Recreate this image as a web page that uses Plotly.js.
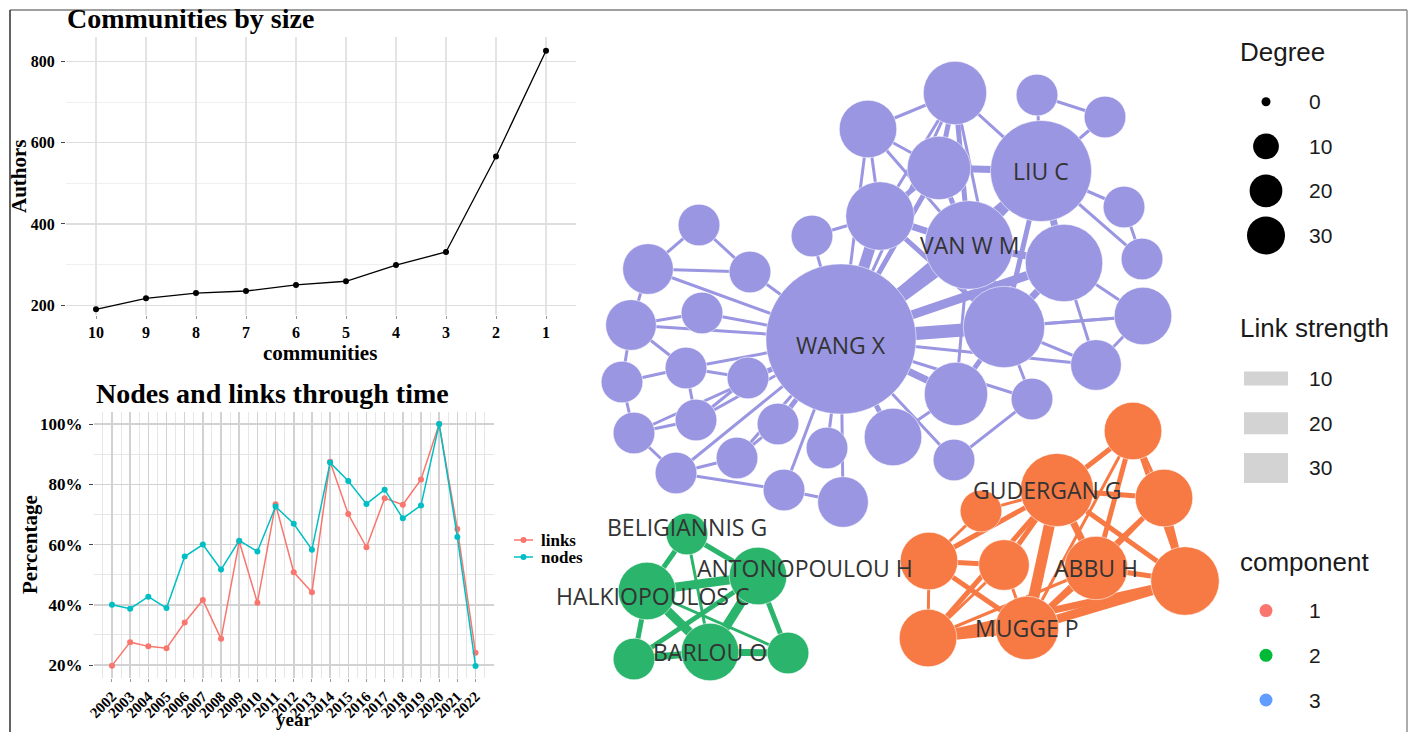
<!DOCTYPE html>
<html><head><meta charset="utf-8">
<script src="https://cdn.plot.ly/plotly-3.0.1.min.js"></script>
<style>html,body{margin:0;padding:0;background:#fff}#chart{width:1416px;height:732px}</style>
</head><body><div id="chart"></div>
<script>
// ---------------- DATA ----------------
// Communities by size
const communities = ['10','9','8','7','6','5','4','3','2','1'];
const authors = [190, 217, 230, 235, 250, 259, 299, 331, 566, 826];

// Nodes and links through time (percent of maximum)
const years = [2002,2003,2004,2005,2006,2007,2008,2009,2010,2011,2012,2013,2014,2015,2016,2017,2018,2019,2020,2021,2022];
const linksPct = [19.8,27.6,26.2,25.6,34.1,41.6,28.7,61.0,40.7,73.4,50.8,44.2,87.5,70.1,59.1,75.4,73.2,81.6,100,65.2,24.1];
const nodesPct = [40.0,38.7,42.7,38.9,56.0,60.0,51.7,61.3,57.7,72.6,66.9,58.3,87.2,81.1,73.5,78.2,68.7,73.0,100,62.5,19.7];
const pctTicks = [20, 40, 60, 80, 100];

// Co-authorship network (graph layout coordinates)
const nodeNames = ['WANG X','VAN W M','LIU C','','','','','','','','','','','','','','','','','','','','','','','','','','','','','','','','','',
  'BELIGIANNIS G','ANTONOPOULOU H','HALKIOPOULOS C','BARLOU O','','',
  'GUDERGAN G','','','','','','ABBU H','','MUGGE P',''];
const nodeX = [-0.59,0.69,1.41,0.55,1.37,2.05,-0.32,0.39,-0.20,-0.88,1.64,2.24,2.42,1.04,2.43,1.96,0.56,1.32,-0.07,0.54,-0.73,-1.22,-1.63,-1.16,-0.57,-2.24,-2.04,-2.66,-1.52,-2.14,-2.78,-2.69,-1.98,-2.52,-1.50,-2.01,
  -2.13,-1.42,-2.53,-1.90,-2.66,-1.12,
  1.57,2.33,2.64,0.81,0.29,1.04,1.96,2.85,1.27,0.28];
const nodeY = [0.61,1.55,2.29,3.07,3.05,2.83,2.71,2.32,1.84,1.64,1.37,1.93,1.41,0.73,0.84,0.35,0.06,0.01,-0.37,-0.60,-0.48,-0.24,-0.58,-0.90,-1.02,-0.73,-0.20,-0.33,0.22,0.32,0.18,0.75,0.87,1.31,1.28,1.75,
  -1.34,-1.76,-1.91,-2.52,-2.59,-2.53,
  -0.90,-0.31,-0.98,-1.11,-1.61,-1.65,-1.68,-1.81,-2.28,-2.38];
const nodeDegree = [36,10,14,4,1,1,3,4,5,1,7,1,1,8,3,2,4,1,3,1,1,1,1,1,2,1,1,1,1,1,1,2,1,2,1,1,
  1,3,3,3,1,1,
  6,3,3,1,3,2,4,5,4,3];
const nodeComponent = [3,3,3,3,3,3,3,3,3,3,3,3,3,3,3,3,3,3,3,3,3,3,3,3,3,3,3,3,3,3,3,3,3,3,3,3,
  2,2,2,2,2,2,
  1,1,1,1,1,1,1,1,1,1];
const edgeFrom = [0,0,0,0,0,0,0,0,0,0,0,0,0,0,0,0,0,0,0,0,0,0,0,0,0,0,0,0,0,
  35,35,33,33,31,31,30,30,30,29,27,26,27,25,22,23,25,29,
  6,6,6,6,3,3,3,3,3,4,4,5,7,7,7,2,2,2,2,11,10,10,10,10,13,13,13,13,13,17,16,8,8,9,15,2,16,
  36,36,36,38,38,38,38,37,37,37,40,39,
  42,42,42,42,42,42,42,42,42,43,43,43,43,44,44,44,46,46,46,47,47,48,48,49,49,51,48,45];
const edgeTo = [9,8,1,10,13,2,7,14,15,16,17,18,19,20,21,22,23,24,25,26,27,28,29,31,32,33,34,6,3,
  33,34,34,31,32,29,31,27,29,26,26,28,25,22,21,24,23,28,
  3,7,8,1,7,1,2,8,13,5,2,2,2,1,8,1,11,10,13,12,14,15,13,1,14,15,16,17,1,19,1,1,13,8,14,12,18,
  38,37,39,37,39,40,41,39,40,41,39,41,
  43,44,45,46,47,48,50,51,49,44,48,49,50,49,48,50,47,50,51,51,50,49,50,50,51,50,51,46];
const edgeWeight = [1,5,7,4,6,2,2,1,1,3,1,2,1,1,2,1,1,1,1,1,1,1,1,1,1,1,1,1,1,
  1,1,1,1,1,1,1,1,1,1,1,1,1,1,1,1,1,1,
  1,1,1,1,2,2,1,1,1,1,1,1,3,2,2,4,1,3,2,1,1,1,3,3,1,1,2,1,4,1,1,3,2,1,1,1,1,
  2,2,1,4,4,2,1,4,2,2,3,3,
  2,2,1,2,2,3,5,2,2,1,2,2,1,2,1,2,2,2,1,1,1,2,2,4,3,4,1,1];

// Legend values
const degreeLegend = [0, 10, 20, 30];
const strengthLegend = [10, 20, 30];
const componentLegend = ['1', '2', '3'];

// ---------------- STYLE ----------------
const W = 1416, H = 732;
const px = x => x / W, py = y => 1 - y / H;
const SERIF = 'Liberation Serif, Times New Roman, serif';
const SANS = 'Liberation Sans, Arial, sans-serif';
const LABEL = 'Open Sans, Noto Sans, sans-serif';
const netColor = {1: '#F77A45', 2: '#2BB46C', 3: '#9A96E2'};
const legendColor = {'1': '#F8766D', '2': '#00BA38', '3': '#619CFF'};
const nodeDiameter = d => 20 + 21.7 * Math.sqrt(d);
const edgeWidth = w => 1 + 2 * w;
const legendDot = v => 9 + 5.3 * Math.sqrt(v);
const labelShift = {
  'WANG X': [0, -6], 'ANTONOPOULOU H': [47, 8], 'HALKIOPOULOS C': [5, -5],
  'BELIGIANNIS G': [0, 7], 'GUDERGAN G': [-10, 0]
};

const traces = [];
// Communities by size
traces.push({x: communities, y: authors, xaxis: 'x', yaxis: 'y', type: 'scatter', mode: 'lines+markers',
  line: {color: '#000', width: 1.3}, marker: {color: '#000', size: 6, opacity: 1}, showlegend: false, hoverinfo: 'x+y'});
// Nodes and links through time
traces.push({x: years, y: linksPct, xaxis: 'x2', yaxis: 'y2', type: 'scatter', mode: 'lines+markers', name: 'links',
  line: {color: '#F8766D', width: 1.5}, marker: {color: '#F8766D', size: 6, opacity: 1}, showlegend: false});
traces.push({x: years, y: nodesPct, xaxis: 'x2', yaxis: 'y2', type: 'scatter', mode: 'lines+markers', name: 'nodes',
  line: {color: '#00BFC4', width: 1.5}, marker: {color: '#00BFC4', size: 6, opacity: 1}, showlegend: false});

// Network edges grouped by component & weight
const groups = {};
edgeFrom.forEach((a, i) => {
  const b = edgeTo[i], w = edgeWeight[i], c = nodeComponent[a];
  const k = c + '_' + w;
  if (!groups[k]) groups[k] = {c, w, x: [], y: []};
  groups[k].x.push(nodeX[a], nodeX[b], null);
  groups[k].y.push(nodeY[a], nodeY[b], null);
});
Object.values(groups).sort((p, q) => p.w - q.w).forEach(g => {
  traces.push({x: g.x, y: g.y, xaxis: 'x3', yaxis: 'y3', type: 'scatter', mode: 'lines',
    line: {color: netColor[g.c], width: edgeWidth(g.w)}, hoverinfo: 'skip', showlegend: false});
});
// Network nodes
[3, 2, 1].forEach(c => {
  const idx = nodeComponent.map((v, i) => v === c ? i : -1).filter(i => i >= 0);
  traces.push({x: idx.map(i => nodeX[i]), y: idx.map(i => nodeY[i]), xaxis: 'x3', yaxis: 'y3',
    type: 'scatter', mode: 'markers', text: idx.map(i => nodeNames[i]),
    marker: {color: netColor[c], size: idx.map(i => nodeDiameter(nodeDegree[i])), opacity: 1,
      line: {color: 'rgba(255,255,255,0.55)', width: 1}}, showlegend: false, hoverinfo: 'text'});
});

// Legend keys (overlay axis in pixel units)
const degY = i => 101.7 + i * 44.6;
const strY = i => 378.5 + i * 44.7;
const comY = i => 610.6 + i * 44.7;
traces.push({x: degreeLegend.map(() => 1266), y: degreeLegend.map((v, i) => degY(i)), xaxis: 'x4', yaxis: 'y4',
  type: 'scatter', mode: 'markers', marker: {color: '#000', size: degreeLegend.map(legendDot), opacity: 1, line: {width: 0}},
  showlegend: false, hoverinfo: 'skip'});
traces.push({x: componentLegend.map(() => 1266), y: componentLegend.map((v, i) => comY(i)), xaxis: 'x4', yaxis: 'y4',
  type: 'scatter', mode: 'markers', marker: {color: componentLegend.map(v => legendColor[v]), size: 13, opacity: 1, line: {width: 0}},
  showlegend: false, hoverinfo: 'skip'});
// links / nodes keys
[['links', '#F8766D', 540], ['nodes', '#00BFC4', 557]].forEach(([n, col, yy]) => {
  traces.push({x: [514, 533], y: [yy, yy], xaxis: 'x4', yaxis: 'y4', type: 'scatter', mode: 'lines',
    line: {color: col, width: 1.5}, showlegend: false, hoverinfo: 'skip'});
  traces.push({x: [523.5], y: [yy], xaxis: 'x4', yaxis: 'y4', type: 'scatter', mode: 'markers',
    marker: {color: col, size: 6, opacity: 1}, showlegend: false, hoverinfo: 'skip'});
});

// ---------------- ANNOTATIONS ----------------
const ann = [];
const txt = (text, x, y, size, opts = {}) => ann.push(Object.assign({
  text, x: px(x), y: py(y), xref: 'paper', yref: 'paper', showarrow: false,
  xanchor: 'center', yanchor: 'middle', font: {family: SERIF, size, weight: 700, color: '#000'}}, opts));
txt('Communities by size', 65, 19, 28, {xanchor: 'left'});
txt('communities', 320, 353, 21);
txt('Authors', 19, 176, 21, {textangle: -90});
txt('Nodes and links through time', 94, 393, 28, {xanchor: 'left'});
txt('year', 294, 731, 19, {yanchor: 'bottom', borderpad: 0});
txt('Percentage', 30, 545, 21, {textangle: -90});
txt('links', 539, 540, 17, {xanchor: 'left'});
txt('nodes', 539, 557, 17, {xanchor: 'left'});

const sansTxt = (text, x, y, size) => ann.push({text, x: px(x), y: py(y), xref: 'paper', yref: 'paper',
  showarrow: false, xanchor: 'left', yanchor: 'middle', font: {family: SANS, size, color: '#1a1a1a'}});
sansTxt('Degree', 1238, 52, 26);
degreeLegend.forEach((v, i) => sansTxt(String(v), 1307, degY(i), 21));
sansTxt('Link strength', 1238, 328, 26);
strengthLegend.forEach((v, i) => sansTxt(String(v), 1307, strY(i), 21));
sansTxt('component', 1238, 561.5, 26);
componentLegend.forEach((v, i) => sansTxt(v, 1307, comY(i), 21));

// network labels
nodeNames.forEach((n, i) => {
  if (!n) return;
  const s = labelShift[n] || [0, 0];
  ann.push({text: n, x: nodeX[i], y: nodeY[i], xref: 'x3', yref: 'y3', showarrow: false,
    xshift: s[0], yshift: s[1], font: {family: LABEL, size: 23, color: '#333333'}});
});

// ---------------- SHAPES ----------------
const shapes = [
  {type: 'line', xref: 'paper', yref: 'paper', x0: px(10), x1: px(1407), y0: py(10), y1: py(10), line: {color: '#7f7f7f', width: 1.6}},
  {type: 'line', xref: 'paper', yref: 'paper', x0: px(10), x1: px(10), y0: py(10), y1: 0, line: {color: '#222', width: 1.4}},
  {type: 'line', xref: 'paper', yref: 'paper', x0: px(1407), x1: px(1407), y0: py(10), y1: 0, line: {color: '#8a8a8a', width: 1.4}}
];
strengthLegend.forEach((s, i) => {
  const h = 6 + 0.8 * s;
  shapes.push({type: 'rect', xref: 'x4', yref: 'y4', x0: 1244, x1: 1288, y0: strY(i) - h / 2, y1: strY(i) + h / 2,
    fillcolor: '#D3D3D3', line: {width: 0}});
});

// ---------------- LAYOUT ----------------
const tickFont = s => ({family: SERIF, size: s, weight: 700, color: '#000'});
const layout = {
  width: W, height: H, margin: {l: 0, r: 0, t: 0, b: 0},
  paper_bgcolor: '#fff', plot_bgcolor: 'rgba(0,0,0,0)', showlegend: false,
  xaxis: {domain: [px(66), px(576)], anchor: 'y', type: 'category', categoryorder: 'array', categoryarray: communities,
    range: [-0.6, 9.6], showgrid: true, gridcolor: '#e4e4e4', gridwidth: 1.3, zeroline: false, showline: false,
    ticks: 'outside', ticklen: 3, tickcolor: '#999', tickfont: tickFont(16), ticklabelstandoff: 0, fixedrange: true},
  yaxis: {domain: [py(315), py(37)], anchor: 'x', range: [176, 860], tickmode: 'array', tickvals: [200, 400, 600, 800],
    showgrid: true, gridcolor: '#dedede', gridwidth: 1.3, zeroline: false, showline: false,
    minor: {tickmode: 'array', tickvals: [300, 500, 700], showgrid: true, gridcolor: '#efefef', gridwidth: 1, ticks: ''},
    ticks: 'outside', ticklen: 4, tickcolor: '#444', tickfont: tickFont(16), ticklabelstandoff: 3, fixedrange: true},
  xaxis2: {domain: [px(93.8), px(493.7)], anchor: 'y2', range: [2001, 2023], tickmode: 'array', tickvals: years,
    tickangle: -45, showgrid: true, gridcolor: '#d2d2d2', gridwidth: 1.5, zeroline: false, showline: false,
    minor: {tickmode: 'array', tickvals: [2001.5].concat(years.map(y => y + 0.5)), showgrid: true, gridcolor: '#e6e6e6', gridwidth: 1, ticks: ''},
    ticks: 'outside', ticklen: 3, tickcolor: '#999', tickfont: tickFont(15), ticklabelstandoff: 0, fixedrange: true},
  yaxis2: {domain: [py(678), py(411.7)], anchor: 'x2', range: [15.7, 104.1], tickmode: 'array', tickvals: pctTicks,
    ticktext: pctTicks.map(v => v + '%'), showgrid: true, gridcolor: '#d2d2d2', gridwidth: 1.5, zeroline: false, showline: false,
    minor: {tickmode: 'array', tickvals: [30, 50, 70, 90], showgrid: true, gridcolor: '#e6e6e6', gridwidth: 1, ticks: ''},
    ticks: 'outside', ticklen: 4, tickcolor: '#444', tickfont: tickFont(17), ticklabelstandoff: 3, fixedrange: true},
  xaxis3: {domain: [px(560), 1], anchor: 'y3', range: [(560 - 900) / 100, (W - 900) / 100], visible: false, fixedrange: true},
  yaxis3: {domain: [0, 1], anchor: 'x3', range: [(400 - H) / 100, 4], visible: false, fixedrange: true},
  xaxis4: {domain: [0, 1], anchor: 'y4', range: [0, W], visible: false, fixedrange: true},
  yaxis4: {domain: [0, 1], anchor: 'x4', range: [H, 0], visible: false, fixedrange: true},
  annotations: ann, shapes: shapes
};

Plotly.newPlot('chart', traces, layout, {displayModeBar: false, staticPlot: true});
</script>
</body></html>
